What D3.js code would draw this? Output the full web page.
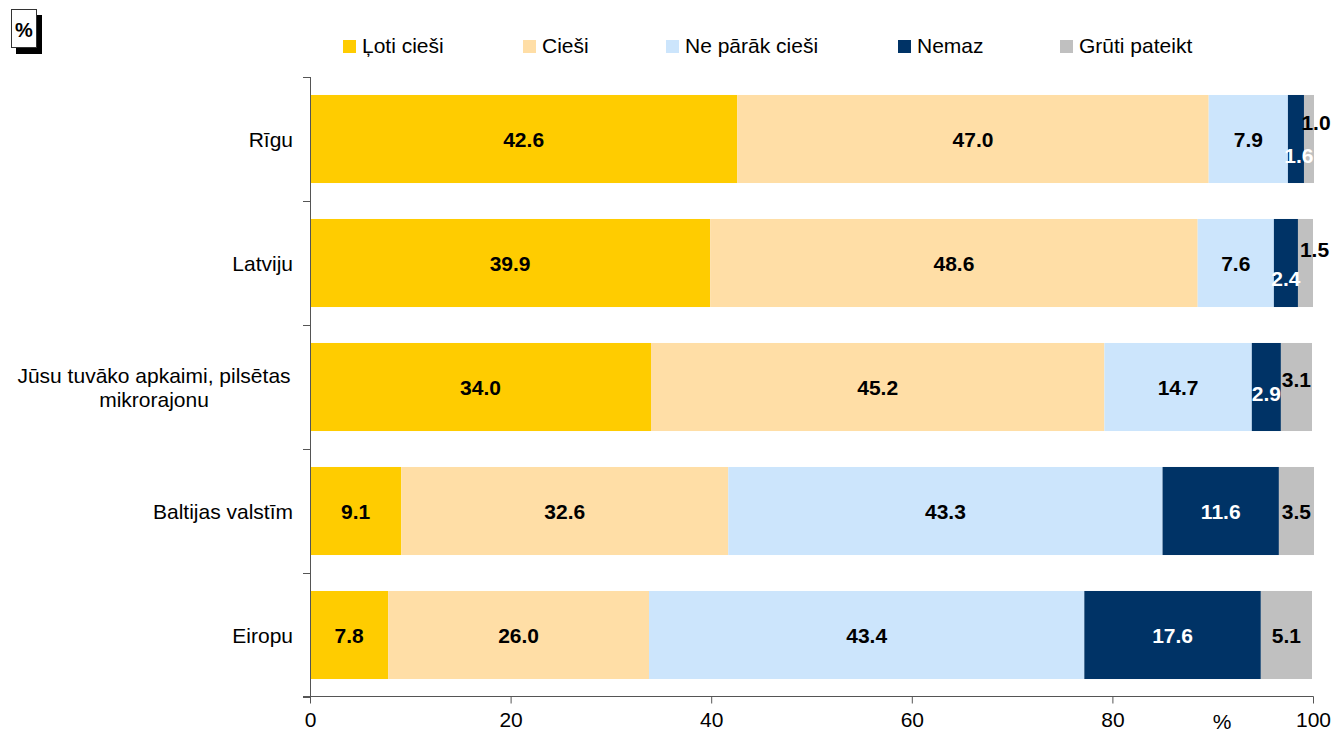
<!DOCTYPE html>
<html>
<head>
<meta charset="utf-8">
<script src="https://cdn.jsdelivr.net/npm/d3@7"></script>
<style>
  body { margin: 0; background: #fff; }
  text { font-family: Arial, "Liberation Sans", sans-serif; }
</style>
</head>
<body>
<svg width="1334" height="736"></svg>
<script>
// data
var categories = ["Rīgu", "Latviju", "Jūsu tuvāko apkaimi, pilsētas mikrorajonu", "Baltijas valstīm", "Eiropu"];
var seriesNames = ["Ļoti cieši", "Cieši", "Ne pārāk cieši", "Nemaz", "Grūti pateikt"];
var lotiCiesi = [42.6, 39.9, 34.0, 9.1, 7.8];
var ciesi = [47.0, 48.6, 45.2, 32.6, 26.0];
var neParakCiesi = [7.9, 7.6, 14.7, 43.3, 43.4];
var nemaz = [1.6, 2.4, 2.9, 11.6, 17.6];
var grutiPateikt = [1.0, 1.5, 3.1, 3.5, 5.1];
var xTicks = [0, 20, 40, 60, 80, 100];

var colors = ["#FFCC00", "#FFDEA6", "#CCE5FC", "#003366", "#C0C0C0"];
var labelColors = ["#000", "#000", "#000", "#fff", "#000"];
var fs = "21px";

// label nudges for the thin segments (row, series) -> [dx, dy]
var nudge = {
    "0-3": [3, 16], "0-4": [7, -17],
    "1-3": [0, 15], "1-4": [9, -14],
    "2-3": [0, 6], "2-4": [0, -8]
};

var svg = d3.select("svg");

var xScale = d3.scaleLinear().domain([0, 100]).range([310, 1313]);
var yScale = d3.scaleBand().domain(categories).range([77, 697]).paddingInner(0.29).paddingOuter(0.145);

var allSeries = [lotiCiesi, ciesi, neParakCiesi, nemaz, grutiPateikt];

var rows = categories.map(function(c, i) {
    var cum = 0;
    return allSeries.map(function(s, j) {
        var seg = {cat: c, row: i, series: j, x0: cum, x1: cum + s[i], v: s[i]};
        cum += s[i];
        return seg;
    });
});
var segs = [].concat.apply([], rows);

// bars
svg.append("g").selectAll("rect")
    .data(segs)
    .enter().append("rect")
    .attr("x", function(d) { return xScale(d.x0); })
    .attr("y", function(d) { return yScale(d.cat); })
    .attr("width", function(d) { return xScale(d.x1) - xScale(d.x0); })
    .attr("height", yScale.bandwidth())
    .attr("fill", function(d) { return colors[d.series]; });

// value labels
svg.append("g").selectAll("text")
    .data(segs)
    .enter().append("text")
    .attr("x", function(d) {
        var n = nudge[d.row + "-" + d.series];
        return (xScale(d.x0) + xScale(d.x1)) / 2 + (n ? n[0] : 0);
    })
    .attr("y", function(d) {
        var n = nudge[d.row + "-" + d.series];
        return yScale(d.cat) + yScale.bandwidth() / 2 + (n ? n[1] : 0);
    })
    .attr("text-anchor", "middle")
    .attr("dominant-baseline", "central")
    .attr("font-size", fs)
    .attr("font-weight", "bold")
    .attr("fill", function(d) { return labelColors[d.series]; })
    .text(function(d) { return d.v.toFixed(1); });

// x axis
var xAxis = svg.append("g")
    .attr("transform", "translate(0,696.5)")
    .call(d3.axisBottom(xScale).tickValues(xTicks).tickSize(7).tickSizeOuter(0).tickPadding(9));
xAxis.select(".domain").attr("stroke", "#555").attr("d", "M303,0H1313.5");
xAxis.selectAll(".tick line").attr("stroke", "#555");
xAxis.selectAll(".tick text").attr("font-size", fs).attr("fill", "#000")
    .style("font-family", "Arial, 'Liberation Sans', sans-serif");

svg.append("text")
    .attr("x", 1222).attr("y", 729)
    .attr("text-anchor", "middle")
    .attr("font-size", fs)
    .text("%");

// y axis (ticks at category boundaries)
var step = yScale.step();
var yTop = 77;
var boundaries = d3.range(categories.length + 1).map(function(i) { return yTop + i * step; });
var yg = svg.append("g");
yg.append("line")
    .attr("x1", 310.5).attr("x2", 310.5)
    .attr("y1", yTop).attr("y2", 697)
    .attr("stroke", "#555");
yg.selectAll("line.tk")
    .data(boundaries)
    .enter().append("line")
    .attr("class", "tk")
    .attr("x1", 303).attr("x2", 310.5)
    .attr("y1", function(d) { return Math.round(d) + 0.5; })
    .attr("y2", function(d) { return Math.round(d) + 0.5; })
    .attr("stroke", "#555");

// category labels
var catLines = {
    "Jūsu tuvāko apkaimi, pilsētas mikrorajonu": ["Jūsu tuvāko apkaimi, pilsētas", "mikrorajonu"]
};
categories.forEach(function(c) {
    var lines = catLines[c] || [c];
    var cy = yScale(c) + yScale.bandwidth() / 2;
    var t = svg.append("text")
        .attr("font-size", fs)
        .attr("fill", "#000")
        .attr("text-anchor", lines.length > 1 ? "middle" : "end");
    lines.forEach(function(l, k) {
        t.append("tspan")
            .attr("x", lines.length > 1 ? 154 : 293)
            .attr("y", cy + (k - (lines.length - 1) / 2) * 24)
            .attr("dominant-baseline", "central")
            .text(l);
    });
});

// legend
var legendX = [343, 523, 666, 898, 1060];
var legend = svg.append("g").selectAll("g")
    .data(seriesNames)
    .enter().append("g")
    .attr("transform", function(d, i) { return "translate(" + legendX[i] + ",40)"; });
legend.append("rect")
    .attr("width", 13).attr("height", 13)
    .attr("fill", function(d, i) { return colors[i]; });
legend.append("text")
    .attr("x", 19).attr("y", 5.5)
    .attr("dominant-baseline", "central")
    .attr("font-size", fs)
    .text(function(d) { return d; });

// "%" badge
svg.append("rect").attr("x", 16).attr("y", 15).attr("width", 26).attr("height", 39).attr("fill", "#000");
svg.append("rect").attr("x", 11.5).attr("y", 9.5).attr("width", 25).attr("height", 38)
    .attr("fill", "#fff").attr("stroke", "#333");
svg.append("text")
    .attr("x", 24).attr("y", 30)
    .attr("text-anchor", "middle")
    .attr("dominant-baseline", "central")
    .attr("font-size", "20px")
    .attr("font-weight", "bold")
    .text("%");
</script>
</body>
</html>
